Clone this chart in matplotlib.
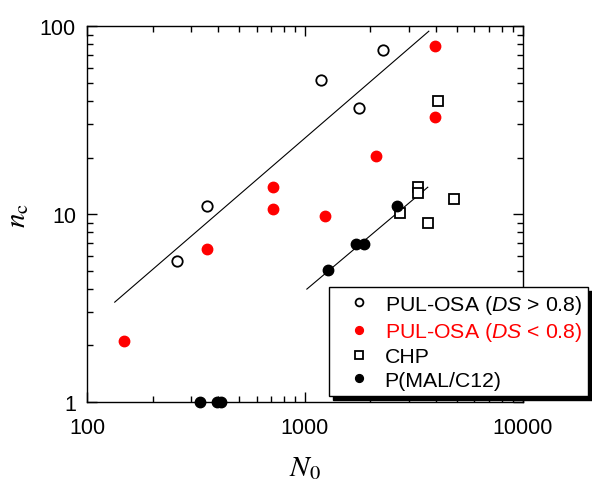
import matplotlib
matplotlib.use('Agg')
import matplotlib.pyplot as plt
from matplotlib.ticker import LogLocator, NullFormatter, FixedFormatter, FixedLocator

plt.rcParams['font.family'] = ['Liberation Sans', 'DejaVu Sans']
plt.rcParams['mathtext.fontset'] = 'custom'
plt.rcParams['mathtext.it'] = 'Liberation Sans:italic'
plt.rcParams['mathtext.rm'] = 'Liberation Sans'

# PUL-OSA (DS > 0.8)
hi_ds_n0 = [259, 355, 1184, 1770, 2281]
hi_ds_nc = [5.6, 11.0, 52, 36.6, 74.5]

# PUL-OSA (DS < 0.8)
lo_ds_n0 = [148, 357, 713, 713, 1236, 2118, 3945, 3945]
lo_ds_nc = [2.11, 6.5, 13.9, 10.6, 9.76, 20.3, 78, 32.8]

# CHP
chp_n0 = [4075, 3296, 3296, 2729, 4820, 3665]
chp_nc = [39.9, 13.9, 12.9, 10.1, 12.0, 8.96]

# P(MAL/C12)
pmal_n0 = [2642, 1713, 1866, 1276, 330, 395, 412]
pmal_nc = [11.0, 6.92, 6.92, 5.04, 1.0, 1.0, 1.0]

# fitted lines (end points)
fit1_n0 = [134, 3706]
fit1_nc = [3.40, 94]
fit2_n0 = [1021, 3665]
fit2_nc = [3.99, 13.9]

fig = plt.figure(figsize=(5.92, 4.85), dpi=100)
ax = fig.add_axes([0.147, 0.169, 0.736, 0.775])

ax.plot(fit1_n0, fit1_nc, color='black', lw=0.8)
ax.plot(fit2_n0, fit2_nc, color='black', lw=0.8)

ms = 7.5
ax.plot(hi_ds_n0, hi_ds_nc, 'o', ls='none', mfc='white', mec='black', mew=1.3, ms=ms,
        label=r'PUL-OSA ($DS$ > 0.8)')
ax.plot(lo_ds_n0, lo_ds_nc, 'o', ls='none', mfc='red', mec='red', ms=ms,
        label=r'PUL-OSA ($DS$ < 0.8)')
ax.plot(chp_n0, chp_nc, 's', ls='none', mfc='white', mec='black', mew=1.3, ms=ms,
        label='CHP')
ax.plot(pmal_n0, pmal_nc, 'o', ls='none', mfc='black', mec='black', ms=ms,
        label='P(MAL/C12)', clip_on=False, zorder=5)

ax.set_xscale('log')
ax.set_yscale('log')
ax.set_xlim(100, 10000)
ax.set_ylim(1, 100)

ax.xaxis.set_major_locator(FixedLocator([100, 1000, 10000]))
ax.xaxis.set_major_formatter(FixedFormatter(['100', '1000', '10000']))
ax.yaxis.set_major_locator(FixedLocator([1, 10, 100]))
ax.yaxis.set_major_formatter(FixedFormatter(['1', '10', '100']))
ax.xaxis.set_minor_locator(LogLocator(base=10, subs=range(2, 10)))
ax.yaxis.set_minor_locator(LogLocator(base=10, subs=range(2, 10)))
ax.xaxis.set_minor_formatter(NullFormatter())
ax.yaxis.set_minor_formatter(NullFormatter())

ax.tick_params(which='both', direction='in', top=True, right=True, width=1)
ax.tick_params(which='major', length=7, labelsize=15.5)
ax.tick_params(axis='x', which='major', pad=11)
ax.tick_params(axis='y', which='major', pad=8)
ax.tick_params(which='minor', length=4)
for s in ax.spines.values():
    s.set_linewidth(1)

ax.set_xlabel(r'$N_0$', fontsize=21, math_fontfamily='stix', labelpad=11)
ax.set_ylabel(r'$n_{\rm c}$', fontsize=21, math_fontfamily='stix', labelpad=6)

leg = ax.legend(loc='lower left', bbox_to_anchor=(0.555, 0.016), fontsize=15.3,
                frameon=True, fancybox=False, edgecolor='black', framealpha=1,
                shadow={'color': 'black', 'alpha': 1, 'ox': 3, 'oy': -3},
                markerscale=0.75, handletextpad=0.12, borderpad=0.3,
                labelspacing=0.2, handlelength=2.2, borderaxespad=0)
leg.get_frame().set_linewidth(1)
leg.get_texts()[1].set_color('red')
leg.set_zorder(10)

fig.savefig('out.png', dpi=100)
